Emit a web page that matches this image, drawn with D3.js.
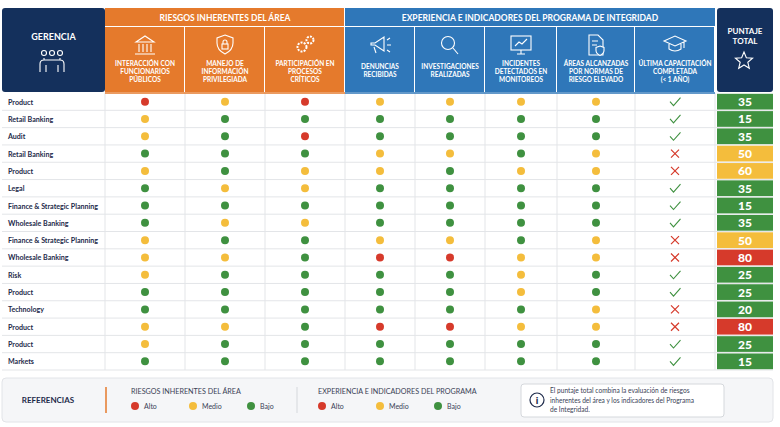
<!DOCTYPE html>
<html><head><meta charset="utf-8">
<script src="https://cdn.jsdelivr.net/npm/d3@7"></script>
<style>body{margin:0;background:#fff;font-family:Lato,"Open Sans",sans-serif}</style>
</head><body><svg id="c" width="780" height="427"></svg>
<script>
const gerencias=["Product","Retail Banking","Audit","Retail Banking","Product","Legal","Finance & Strategic Planning","Wholesale Banking","Finance & Strategic Planning","Wholesale Banking","Risk","Product","Technology","Product","Product","Markets"];
const interaccion=["R","Y","Y","G","Y","G","G","G","Y","Y","Y","G","G","Y","Y","G"];
const manejo=["Y","G","G","G","G","Y","G","Y","G","Y","G","G","G","Y","G","G"];
const participacion=["R","G","R","G","Y","Y","G","Y","G","G","G","G","G","G","G","G"];
const denuncias=["Y","G","G","Y","Y","G","G","G","Y","R","G","G","G","R","G","G"];
const investigaciones=["Y","G","G","Y","G","G","G","G","Y","R","G","G","G","R","G","G"];
const incidentes=["Y","G","G","G","Y","G","G","G","G","Y","Y","Y","G","Y","G","G"];
const areas=["Y","G","G","Y","Y","G","G","G","Y","Y","G","G","Y","Y","G","G"];
const capacitacion=[1,1,1,0,0,1,1,1,0,0,1,1,0,0,1,1];
const puntaje=[35,15,35,50,60,35,15,35,50,80,25,25,20,80,25,15];
const colHeaders=[["INTERACCIÓN CON","FUNCIONARIOS","PÚBLICOS"],["MANEJO DE","INFORMACIÓN","PRIVILEGIADA"],["PARTICIPACIÓN EN","PROCESOS","CRÍTICOS"],["DENUNCIAS","RECIBIDAS"],["INVESTIGACIONES","REALIZADAS"],["INCIDENTES","DETECTADOS EN","MONITOREOS"],["ÁREAS ALCANZADAS","POR NORMAS DE","RIESGO ELEVADO"],["ÚLTIMA CAPACITACIÓN","COMPLETADA","(< 1 AÑO)"]];
const groupTitles=["RIESGOS INHERENTES DEL ÁREA","EXPERIENCIA E INDICADORES DEL PROGRAMA DE INTEGRIDAD"];
const legendLabels=["Alto","Medio","Bajo"];

const navy="#14305c",orange="#e57a2c",blue="#2f77b9";
const dotColor={R:"#d63a2b",Y:"#f4bd3c",G:"#3f9140"};
const scoreColor=v=>v>=80?"#d63a2b":v>=50?"#f4bd3c":"#3f9140";
const svg=d3.select("#c");
const edges=[2,105,185,265,345,415,485,557,635,715,773];
const dotCols=[interaccion,manejo,participacion,denuncias,investigaciones,incidentes,areas];
const topY=8,gh=18,hb=92,rowTop=93,rowBot=370;
const y=d3.scaleBand().domain(d3.range(gerencias.length)).range([rowTop,rowBot]);

svg.append("rect").attr("x",edges[0]).attr("y",topY).attr("width",edges[1]-edges[0]).attr("height",hb-topY).attr("fill",navy).attr("rx",3);
svg.append("rect").attr("x",edges[9]+2).attr("y",topY).attr("width",edges[10]-edges[9]-2).attr("height",hb-topY).attr("fill",navy).attr("rx",3);
for(let i=1;i<9;i++){
  const c=i<=3?orange:blue;
  svg.append("rect").attr("x",edges[i]).attr("y",topY+gh+1).attr("width",edges[i+1]-edges[i]-1).attr("height",hb-topY-gh-1).attr("fill",c);
}
svg.append("rect").attr("x",edges[1]).attr("y",topY).attr("width",edges[4]-edges[1]-1).attr("height",gh).attr("fill",orange);
svg.append("rect").attr("x",edges[4]).attr("y",topY).attr("width",edges[9]-edges[4]).attr("height",gh).attr("fill",blue);
const tx=(x,yy,t,o={})=>svg.append("text").attr("x",x).attr("y",yy).text(t).attr("text-anchor",o.a||"middle").attr("font-size",o.s||7).attr("font-weight",o.w||700).attr("fill",o.f||"#fff");
tx((edges[1]+edges[4])/2,topY+12.5,groupTitles[0],{s:8.5});
tx((edges[4]+edges[9])/2,topY+12.5,groupTitles[1],{s:8.5});
tx((edges[0]+edges[1])/2,40,"GERENCIA",{s:9});
tx((edges[9]+edges[10])/2+1,34,"PUNTAJE",{s:8});
tx((edges[9]+edges[10])/2+1,44,"TOTAL",{s:8});
colHeaders.forEach((lines,i)=>{
  const cx=(edges[i+1]+edges[i+2])/2;
  const y0=lines.length==3?66:69;
  lines.forEach((l,j)=>tx(cx,y0+j*8,l,{s:6.5}));
});
const ic=svg.append("g").attr("fill","none").attr("stroke","#fff").attr("stroke-width",1.1);
const cxs=d3.range(8).map(i=>(edges[i+1]+edges[i+2])/2), iy=45;
[-8,0,8].forEach(d=>ic.append("circle").attr("cx",52+d).attr("cy",53).attr("r",2.5));
ic.append("path").attr("d","M40,72 v-8 q0,-4 4,-4 h16 q4,0 4,4 v8 M46,72 v-7 M58,72 v-7 M44,60 v-2 M60,60 v-2");
ic.append("path").attr("d",`M${cxs[0]-9},${iy-3} L${cxs[0]},${iy-9} L${cxs[0]+9},${iy-3} Z M${cxs[0]-6},${iy-1} v8 M${cxs[0]-2},${iy-1} v8 M${cxs[0]+2},${iy-1} v8 M${cxs[0]+6},${iy-1} v8 M${cxs[0]-10},${iy+9} h20`);
ic.append("path").attr("d",`M${cxs[1]},${iy-10} l8,3 v5 q0,7 -8,11 q-8,-4 -8,-11 v-5 Z`);
ic.append("rect").attr("x",cxs[1]-3).attr("y",iy-1).attr("width",6).attr("height",5);
ic.append("path").attr("d",`M${cxs[1]-2},${iy-1} v-2 a2,2 0 0 1 4,0 v2`);
ic.append("circle").attr("cx",cxs[2]-3).attr("cy",iy+2).attr("r",4.5).attr("stroke-dasharray","2 1.2").attr("stroke-width",2);
ic.append("circle").attr("cx",cxs[2]+5).attr("cy",iy-5).attr("r",3.5).attr("stroke-dasharray","2 1.2").attr("stroke-width",2);
ic.append("path").attr("d",`M${cxs[3]-9},${iy-2} h4 l9,-6 v14 l-9,-6 h-4 z M${cxs[3]-6},${iy+2} l2,6 M${cxs[3]+7},${iy-5} l3,-2 M${cxs[3]+7},${iy} h4 M${cxs[3]+7},${iy+5} l3,2`);
ic.append("circle").attr("cx",cxs[4]-2).attr("cy",iy-2).attr("r",6.5);
ic.append("path").attr("d",`M${cxs[4]+3},${iy+3} l5,6`);
ic.append("rect").attr("x",cxs[5]-10).attr("y",iy-9).attr("width",20).attr("height",14);
ic.append("path").attr("d",`M${cxs[5]-6},${iy+1} l4,-4 l3,2 l5,-5 M${cxs[5]-4},${iy+9} h8 M${cxs[5]},${iy+5} v4`);
ic.append("path").attr("d",`M${cxs[6]-7},${iy-10} h9 l5,5 v15 h-14 z M${cxs[6]-4},${iy-4} h6 M${cxs[6]-4},${iy} h5`);
ic.append("path").attr("d",`M${cxs[6]+4},${iy+1} l4,1.5 v3 q0,3 -4,5 q-4,-2 -4,-5 v-3 z`).attr("fill",blue);
ic.append("path").attr("d",`M${cxs[7]-11},${iy-4} l11,-5 l11,5 l-11,5 z M${cxs[7]-6},${iy-1} v5 q6,4 12,0 v-5 M${cxs[7]+9},${iy-3} v6`);
const star=d3.range(10).map(i=>{const r=i%2?4:9,a=-Math.PI/2+i*Math.PI/5;return [744+r*Math.cos(a),61+r*Math.sin(a)];});
ic.append("path").attr("d","M"+star.join("L")+"Z");

const rows=svg.append("g");
gerencias.forEach((g,i)=>{
  const yy=y(i),h=y.bandwidth(),cy=yy+h/2;
  rows.append("line").attr("x1",edges[0]).attr("x2",edges[10]).attr("y1",yy+h).attr("y2",yy+h).attr("stroke","#e3e5e8");
  tx(edges[0]+6,cy+3,g,{a:"start",s:7.1,f:"#1d2a4a"});
  dotCols.forEach((arr,k)=>{
    rows.append("circle").attr("cx",(edges[k+1]+edges[k+2])/2).attr("cy",cy).attr("r",4).attr("fill",dotColor[arr[i]]);
  });
  const ccx=(edges[8]+edges[9])/2;
  if(capacitacion[i]) rows.append("path").attr("d",`M${ccx-5},${cy} l3.5,4 l7,-8`).attr("fill","none").attr("stroke","#3f9140").attr("stroke-width",1.1);
  else rows.append("path").attr("d",`M${ccx-4},${cy-4} l8,8 M${ccx+4},${cy-4} l-8,8`).attr("fill","none").attr("stroke","#d63a2b").attr("stroke-width",1.2);
  rows.append("rect").attr("x",edges[9]+2).attr("y",yy+0.8).attr("width",edges[10]-edges[9]-2).attr("height",h-1.6).attr("fill",scoreColor(puntaje[i]));
  tx((edges[9]+edges[10])/2+1,cy+4.5,puntaje[i],{s:12,w:900});
});
for(let i=1;i<10;i++){
  rows.append("line").attr("x1",edges[i]).attr("x2",edges[i]).attr("y1",rowTop).attr("y2",rowBot).attr("stroke","#e3e5e8");
}
rows.append("line").attr("x1",edges[1]).attr("x2",edges[4]).attr("y1",rowTop).attr("y2",rowTop).attr("stroke",orange).attr("stroke-width",1.5);
rows.append("line").attr("x1",edges[4]).attr("x2",edges[9]).attr("y1",rowTop).attr("y2",rowTop).attr("stroke",blue).attr("stroke-width",1.5);

const L=svg.append("g");
L.append("rect").attr("x",2).attr("y",378).attr("width",771).attr("height",44).attr("rx",4).attr("fill","#f5f6f8").attr("stroke","#e2e4e8");
tx(48,403,"REFERENCIAS",{s:8,f:"#1d2a4a"});
L.append("line").attr("x1",106).attr("x2",106).attr("y1",387).attr("y2",413).attr("stroke",orange).attr("stroke-width",1.5);
L.append("line").attr("x1",297).attr("x2",297).attr("y1",387).attr("y2",413).attr("stroke","#d5d8dc");
[[131,"RIESGOS INHERENTES DEL ÁREA"],[318,"EXPERIENCIA E INDICADORES DEL PROGRAMA"]].forEach(([x0,t])=>{
  tx(x0,394,t,{a:"start",s:7.2,w:400,f:"#3a4256"});
  legendLabels.forEach((l,j)=>{
    const cx=x0+4+j*58;
    L.append("circle").attr("cx",cx).attr("cy",406).attr("r",4).attr("fill",dotColor["RYG"[j]]);
    tx(cx+9,409,l,{a:"start",s:7,w:400,f:"#3a4256"});
  });
});
L.append("rect").attr("x",521).attr("y",384).attr("width",203).attr("height",33).attr("rx",3).attr("fill","#fff").attr("stroke","#d5d8dc");
L.append("circle").attr("cx",537).attr("cy",400).attr("r",7).attr("fill","none").attr("stroke","#1d2a4a").attr("stroke-width",1.2);
tx(537,404,"i",{s:10,w:900,f:"#1d2a4a"});
["El puntaje total combina la evaluación de riesgos","inherentes del área y los indicadores del Programa","de Integridad."].forEach((t,j)=>tx(550,393+j*9.5,t,{a:"start",s:6.6,w:400,f:"#3a4256"}));
</script></body></html>
